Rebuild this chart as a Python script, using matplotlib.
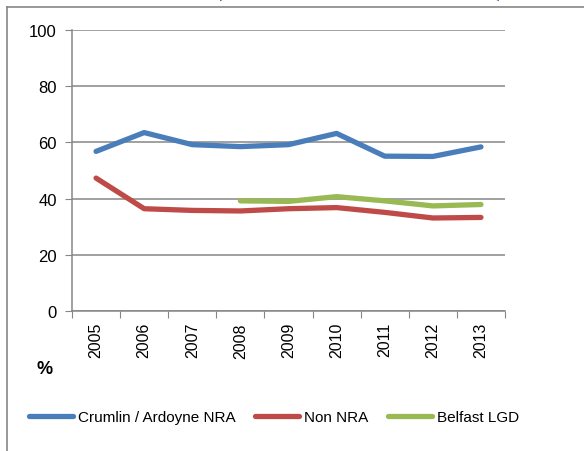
import numpy as np
import matplotlib.pyplot as plt
from matplotlib.lines import Line2D
from matplotlib.patches import Arc

years = ['2005', '2006', '2007', '2008', '2009', '2010', '2011', '2012', '2013']
crumlin = [56.8, 63.5, 59.2, 58.5, 59.2, 63.2, 55.1, 55.0, 58.4]
non_nra = [47.3, 36.4, 35.8, 35.6, 36.4, 36.8, 35.1, 33.1, 33.3]
belfast = [np.nan, np.nan, np.nan, 39.2, 39.0, 40.7, 39.2, 37.4, 37.9]
series_names = ['Crumlin / Ardoyne NRA', 'Non NRA', 'Belfast LGD']
colors = ['#4A7EBB', '#BE4B48', '#98B954']

W, H = 584, 452
fig = plt.figure(figsize=(W / 100, H / 100), dpi=100)
plt.rcParams['font.family'] = ['Liberation Sans', 'DejaVu Sans']

# axes box in pixels: x 72..505, y 31..312
ax = fig.add_axes([72 / W, 1 - 312 / H, 433 / W, 281 / H])
x = np.arange(len(years))
for vals, c, name in zip([crumlin, non_nra, belfast], colors, series_names):
    ax.plot(x, vals, color=c, lw=3.8, solid_capstyle='round', label=name)

ax.set_xlim(-0.5, len(years) - 0.5)
ax.set_ylim(0, 100)
ax.set_yticks(range(0, 101, 20))
ax.tick_params(axis='y', labelsize=12, length=5, color='#868686', pad=6)
ax.yaxis.grid(True, color='#868686', lw=1.1)
ax.set_axisbelow(True)

ax.set_xticks(np.arange(-0.5, len(years)), labels=[''] * (len(years) + 1))
ax.set_xticks(x, labels=years, minor=True, rotation=90)
ax.tick_params(axis='x', which='major', length=5, color='#868686')
ax.tick_params(axis='x', which='minor', length=0, labelsize=11.5, pad=8)

for s in ['top', 'right']:
    ax.spines[s].set_visible(False)
for s in ['left', 'bottom']:
    ax.spines[s].set_color('#868686')
    ax.spines[s].set_linewidth(1.1)

fig.text(45 / W, 1 - 370 / H, '%', fontsize=13, fontweight='bold', ha='center', va='center')

handles = [Line2D([], [], color=c, lw=3.8, solid_capstyle='round') for c in colors]
fig.legend(handles, series_names, loc='center', bbox_to_anchor=(274 / W, 1 - 418 / H),
           ncol=3, frameon=False, fontsize=11, handlelength=2.9, handletextpad=0.3,
           columnspacing=1.3)

# outer chart frame (cropped)
fig.add_artist(Line2D([7 / W, 7 / W], [0, 1 - 8 / H], color='#868686', lw=1.2))
fig.add_artist(Line2D([7 / W, 1], [1 - 8 / H, 1 - 8 / H], color='#868686', lw=1.2))
# bottoms of the cut-off title brackets
for cx, t1, t2 in [(226, 180, 230), (493, 310, 360)]:
    fig.add_artist(Arc((cx, H + 4), 12, 18, theta1=t1, theta2=t2,
                       transform=None, color='#7030A0', lw=1.5))

fig.savefig('out.png', dpi=100)
